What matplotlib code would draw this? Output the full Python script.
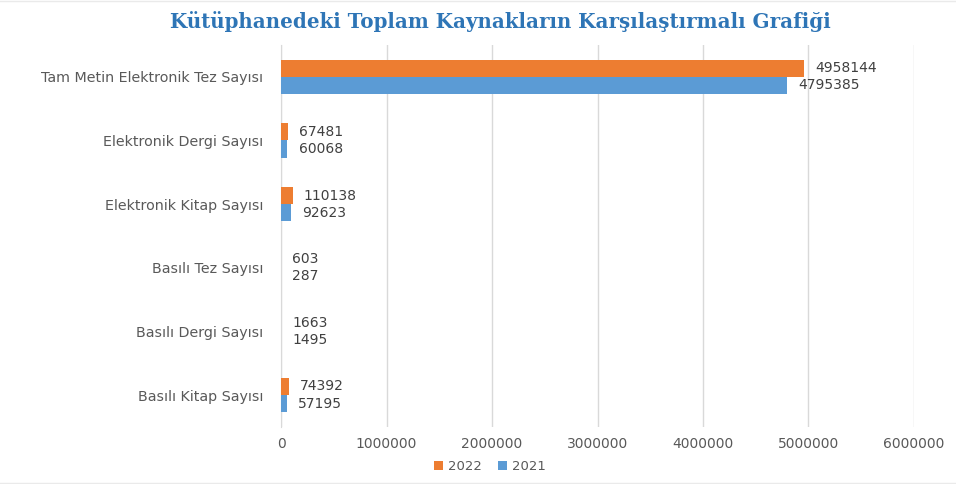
import matplotlib.pyplot as plt
import numpy as np

# Kaynak türleri ve yıllara göre sayılar
categories = ["Tam Metin Elektronik Tez Sayısı", "Elektronik Dergi Sayısı",
              "Elektronik Kitap Sayısı", "Basılı Tez Sayısı",
              "Basılı Dergi Sayısı", "Basılı Kitap Sayısı"]
values_2022 = [4958144, 67481, 110138, 603, 1663, 74392]
values_2021 = [4795385, 60068, 92623, 287, 1495, 57195]
xticks = [0, 1000000, 2000000, 3000000, 4000000, 5000000, 6000000]

orange = "#ED7D31"
blue = "#5B9BD5"
txt = "#595959"

plt.rcParams['font.family'] = ['DejaVu Sans']

fig = plt.figure(figsize=(9.56, 4.84), dpi=100)
ax = fig.add_axes([0.294, 0.118, 0.662, 0.789])

y = np.arange(len(categories))
h = 0.27
b1 = ax.barh(y - h / 2, values_2022, height=h, color=orange, label="2022", zorder=3)
b2 = ax.barh(y + h / 2, values_2021, height=h, color=blue, label="2021", zorder=3)

for bars in (b1, b2):
    for rect in bars:
        v = rect.get_width()
        ax.annotate(f"{int(v)}", (v, rect.get_y() + rect.get_height() / 2),
                    xytext=(8, 0), textcoords="offset points",
                    va="center", ha="left", fontsize=10, color="#404040")

ax.set_xlim(0, 6000000)
ax.set_ylim(len(categories) - 0.5, -0.5)
ax.set_yticks(y)
ax.set_yticklabels(categories, fontsize=10.3, color=txt)
ax.set_xticks(xticks)
ax.set_xticklabels([str(t) for t in xticks], fontsize=10, color=txt)
ax.tick_params(axis="x", length=0, pad=7)
ax.tick_params(axis="y", length=0, pad=13)
ax.grid(axis="x", color="#D9D9D9", linewidth=1, zorder=0)
for s in ["top", "right", "bottom"]:
    ax.spines[s].set_visible(False)
ax.spines["left"].set_color("#D9D9D9")

fig.text(0.523, 0.955, "Kütüphanedeki Toplam Kaynakların Karşılaştırmalı Grafiği",
         ha="center", va="center", fontsize=14.3, fontweight="bold",
         color="#2E75B6", family="DejaVu Serif")

ax.legend(loc="center", bbox_to_anchor=(0.33, -0.105), ncol=2, frameon=False,
          fontsize=9.5, handlelength=0.7, handleheight=0.7, columnspacing=1.2,
          handletextpad=0.4, labelcolor=txt)

fig.add_artist(plt.Line2D([0, 1], [0.997, 0.997], color="#EAEAEA", linewidth=1))
fig.add_artist(plt.Line2D([0, 1], [0.003, 0.003], color="#EAEAEA", linewidth=1))

fig.savefig("out.png", dpi=100)
